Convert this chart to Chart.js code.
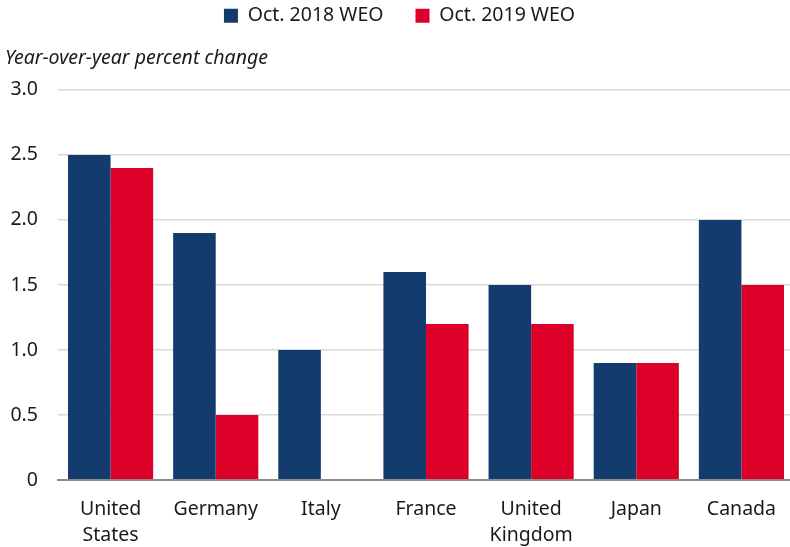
<!DOCTYPE html>
<html>
<head>
<meta charset="utf-8">
<script src="https://cdn.jsdelivr.net/npm/chart.js@4/dist/chart.umd.min.js"></script>
<style>
  html, body { margin: 0; padding: 0; background: #fff; overflow: hidden; }
  #wrap { width: 794px; height: 547px; }
</style>
</head>
<body>
<div id="wrap"><canvas id="chart" width="794" height="547"></canvas></div>
<script>
// Real GDP growth projections, 2019 (percent)
const countries = [['United', 'States'], 'Germany', 'Italy', 'France', ['United', 'Kingdom'], 'Japan', 'Canada'];
const weo2018 = [2.5, 1.9, 1.0, 1.6, 1.5, 0.9, 2.0];
const weo2019 = [2.4, 0.5, 0.0, 1.2, 1.2, 0.9, 1.5];
const seriesNames = ['Oct. 2018 WEO', 'Oct. 2019 WEO'];
const yTicks = [0, 0.5, 1.0, 1.5, 2.0, 2.5, 3.0];

const FONT = '"Noto Sans", "Open Sans", sans-serif';
const SIZE = 19.5;
Chart.defaults.font.family = FONT;
Chart.defaults.color = '#1a1a1a';

new Chart(document.getElementById('chart'), {
    type: 'bar',
    data: {
        labels: countries,
        datasets: [
            { label: seriesNames[0], data: weo2018, backgroundColor: '#143b6e' },
            { label: seriesNames[1], data: weo2019, backgroundColor: '#dc0029' }
        ]
    },
    options: {
        responsive: false,
        animation: false,
        layout: { padding: { left: 5, right: 0, top: -26, bottom: 0 } },
        datasets: { bar: { categoryPercentage: 0.81, barPercentage: 1.0, borderWidth: 0 } },
        plugins: {
            legend: {
                position: 'top',
                weight: 3000,
                labels: {
                    boxWidth: 14,
                    boxHeight: 14,
                    padding: 32,
                    font: { size: SIZE },
                    color: '#1a1a1a'
                }
            },
            title: {
                display: true,
                text: 'Year-over-year percent change',
                align: 'start',
                position: 'top',
                font: { size: SIZE, style: 'italic', weight: 'normal' },
                color: '#1a1a1a',
                padding: { top: 11, bottom: 20 }
            },
            tooltip: { enabled: false }
        },
        scales: {
            x: {
                grid: { display: false },
                border: { color: '#8c8c8c', width: 2 },
                ticks: {
                    font: { size: SIZE, lineHeight: 1.35 },
                    color: '#1a1a1a',
                    padding: 8,
                    maxRotation: 0,
                    autoSkip: false
                },
                afterFit: scale => { scale.height = 67; }
            },
            y: {
                min: 0,
                max: 3,
                afterBuildTicks: scale => { scale.ticks = yTicks.map(v => ({ value: v })); },
                grid: {
                    drawTicks: false,
                    color: ctx => (ctx.tick && ctx.tick.value === 0) ? '#8c8c8c' : '#d9d9d9',
                    lineWidth: ctx => (ctx.tick && ctx.tick.value === 0) ? 2 : 1.5
                },
                border: { display: false },
                ticks: {
                    font: { size: SIZE },
                    color: '#1a1a1a',
                    padding: 20,
                    callback: v => v === 0 ? '0' : v.toFixed(1)
                },
                afterFit: scale => { scale.width = 53; }
            }
        }
    }
});
</script>
</body>
</html>
